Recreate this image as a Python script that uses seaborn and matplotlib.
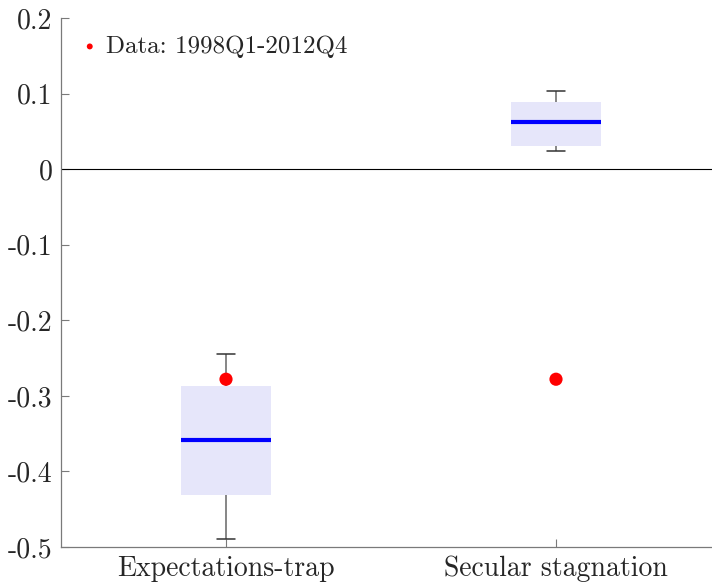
import seaborn as sns
import numpy as np
import pandas as pd
import matplotlib.pyplot as plt

# box summary: lower whisker, q1, median, q3, upper whisker
models = ['Expectations-trap', 'Secular stagnation']
expect_trap = [-0.489, -0.431, -0.359, -0.287, -0.244]
secular_stag = [0.024, 0.030, 0.063, 0.089, 0.104]
data_point = [-0.278, -0.278]
legend_label = 'Data: 1998Q1-2012Q4'

df = pd.DataFrame({'model': [models[0]] * 5 + [models[1]] * 5,
                   'value': expect_trap + secular_stag})
pts = pd.DataFrame({'model': models, 'value': data_point})

sns.set_style('white')
plt.rcParams['font.family'] = ['cmr10', 'DejaVu Serif']
plt.rcParams['mathtext.fontset'] = 'cm'
plt.rcParams['axes.unicode_minus'] = False
plt.rcParams['axes.formatter.use_mathtext'] = True

fig = plt.figure(figsize=(7.12, 5.84), dpi=100)
ax = fig.add_axes([61 / 712, 1 - 547 / 584, 660 / 712, 529 / 584])

ax.axhline(0, color='black', lw=0.8, zorder=1)
sns.boxplot(data=df, x='model', y='value', ax=ax, width=0.275, whis=10,
            color='#e6e6fa', fill=True, linewidth=0,
            boxprops=dict(facecolor='#e6e6fa', edgecolor='none'),
            medianprops=dict(color='blue', lw=3, solid_capstyle='butt'),
            whiskerprops=dict(color='#666666', lw=1.1),
            capprops=dict(color='#333333', lw=1.1),
            showfliers=False)
# shorter caps like the original
for ln in ax.lines:
    xd = np.asarray(ln.get_xdata(), dtype=float)
    if len(xd) == 2 and xd[0] != xd[1] and ln.get_color() == '#333333':
        c = xd.mean()
        ln.set_xdata([c - 0.026, c + 0.026])

sns.scatterplot(data=pts, x='model', y='value', ax=ax, color='red', s=90,
                edgecolor='none', zorder=5, label=legend_label)

ax.set_ylim(-0.5, 0.2)
ax.set_xlim(-0.5, 1.5)
ax.set_yticks(np.arange(-0.5, 0.21, 0.1))
ax.set_yticklabels(['-0.5', '-0.4', '-0.3', '-0.2', '-0.1', '0', '0.1', '0.2'])
ax.set_xlabel('')
ax.set_ylabel('')
for s in ['top', 'right']:
    ax.spines[s].set_visible(False)
for s in ['left', 'bottom']:
    ax.spines[s].set_color('#7a7a7a')
    ax.spines[s].set_linewidth(0.9)
ax.tick_params(direction='in', length=6, width=0.8, color='#7a7a7a',
               labelsize=20, labelcolor='#262626', pad=6,
               left=True, bottom=True)

leg = ax.legend(loc='upper left', frameon=False, fontsize=18, markerscale=0.45,
                handletextpad=0.2, handlelength=0.9, borderaxespad=0.3,
                labelcolor='#262626')

fig.savefig('out.png', dpi=100)
